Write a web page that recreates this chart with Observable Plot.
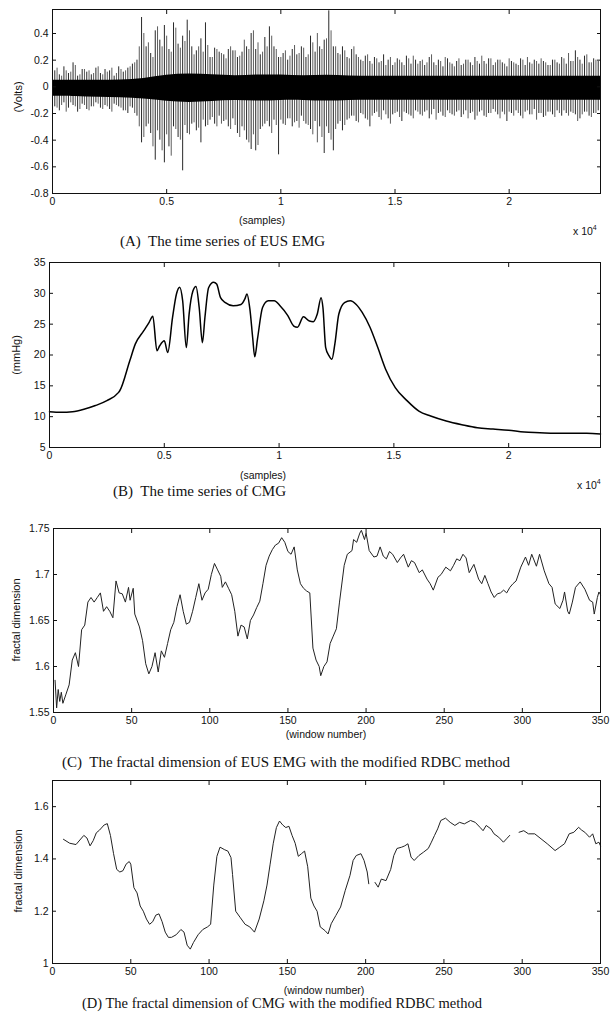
<!DOCTYPE html>
<html><head><meta charset="utf-8">
<script src="https://cdn.jsdelivr.net/npm/d3@7"></script>
<script src="https://cdn.jsdelivr.net/npm/@observablehq/plot@0.6"></script>
<style>
body{margin:0;background:#fff;}
#wrap{position:relative;width:611px;height:1016px;font-family:"Liberation Sans",Arial,sans-serif;color:#111;overflow:hidden;}
.p{position:absolute;left:0;}
.t{position:absolute;white-space:nowrap;font-size:10.5px;line-height:1;transform:translate(-50%,-50%);}
.x4{position:absolute;white-space:nowrap;font-size:10.5px;line-height:1;transform:translateY(-50%);}
.x4 sup{font-size:7px;vertical-align:5px;}
.cap{position:absolute;white-space:nowrap;font-family:"Liberation Serif","Times New Roman",serif;font-size:15px;line-height:1;transform:translateY(-50%);}
.yl{position:absolute;white-space:nowrap;font-size:11px;line-height:1;transform:translate(-50%,-50%) rotate(-90deg);}
</style></head><body><div id="wrap"></div>
<script>
// ---------- Panel A: EUS EMG (per 200-sample bin extremes, Volts) ----------
const emgBinSize = 200;
const emgMax = [0.12,0.09,0.15,0.10,0.18,0.08,0.13,0.11,0.09,0.14,
0.10,0.13,0.12,0.08,0.15,0.11,0.14,0.17,0.20,0.52,
0.30,0.25,0.42,0.35,0.46,0.28,0.48,0.32,0.38,0.50,
0.30,0.27,0.36,0.48,0.22,0.29,0.26,0.24,0.28,0.27,
0.22,0.26,0.30,0.40,0.28,0.24,0.37,0.45,0.30,0.22,
0.25,0.20,0.28,0.24,0.30,0.22,0.38,0.26,0.30,0.35,
0.57,0.30,0.25,0.30,0.22,0.28,0.24,0.20,0.23,0.19,
0.22,0.18,0.24,0.20,0.16,0.21,0.18,0.23,0.17,0.20,
0.19,0.16,0.22,0.18,0.20,0.15,0.21,0.17,0.19,0.16,
0.20,0.18,0.22,0.17,0.19,0.21,0.16,0.20,0.18,0.15,
0.19,0.17,0.21,0.16,0.18,0.20,0.17,0.19,0.16,0.20,
0.18,0.22,0.17,0.19,0.27,0.20,0.23,0.18,0.21,0.19];
const emgMin = [-0.15,-0.18,-0.12,-0.16,-0.14,-0.19,-0.13,-0.17,-0.15,-0.12,
-0.16,-0.14,-0.17,-0.13,-0.15,-0.18,-0.20,-0.16,-0.22,-0.42,
-0.30,-0.35,-0.55,-0.40,-0.57,-0.45,-0.30,-0.38,-0.63,-0.35,
-0.28,-0.33,-0.42,-0.30,-0.25,-0.28,-0.22,-0.26,-0.30,-0.24,
-0.35,-0.30,-0.40,-0.47,-0.48,-0.32,-0.28,-0.30,-0.25,-0.51,
-0.28,-0.24,-0.30,-0.26,-0.22,-0.28,-0.32,-0.26,-0.30,-0.50,
-0.35,-0.48,-0.28,-0.33,-0.25,-0.22,-0.26,-0.20,-0.24,-0.30,
-0.20,-0.23,-0.18,-0.24,-0.21,-0.19,-0.26,-0.20,-0.22,-0.18,
-0.21,-0.19,-0.24,-0.17,-0.20,-0.22,-0.18,-0.21,-0.19,-0.23,
-0.18,-0.20,-0.25,-0.19,-0.22,-0.20,-0.17,-0.21,-0.19,-0.26,
-0.20,-0.18,-0.22,-0.19,-0.21,-0.17,-0.20,-0.23,-0.19,-0.21,
-0.18,-0.22,-0.20,-0.19,-0.21,-0.24,-0.19,-0.22,-0.20,-0.18];
// second set of extremes, for the 200-sample bins offset by half a bin
const emgMax2 = [0.10,0.14,0.08,0.12,0.11,0.16,0.09,0.13,0.12,0.10,
0.15,0.09,0.11,0.14,0.10,0.13,0.12,0.15,0.18,0.30,
0.40,0.33,0.22,0.45,0.30,0.38,0.26,0.44,0.29,0.34,
0.42,0.24,0.30,0.26,0.31,0.22,0.28,0.25,0.21,0.30,
0.27,0.23,0.35,0.28,0.42,0.33,0.26,0.30,0.38,0.28,
0.22,0.27,0.23,0.31,0.25,0.29,0.24,0.33,0.40,0.28,
0.36,0.42,0.30,0.24,0.27,0.21,0.30,0.22,0.19,0.24,
0.17,0.21,0.19,0.16,0.22,0.18,0.20,0.16,0.21,0.23,
0.17,0.20,0.18,0.24,0.16,0.19,0.22,0.18,0.15,0.21,
0.17,0.20,0.16,0.19,0.23,0.17,0.21,0.18,0.20,0.17,
0.21,0.18,0.16,0.20,0.22,0.17,0.19,0.21,0.18,0.16,
0.20,0.17,0.21,0.25,0.19,0.22,0.17,0.24,0.18,0.20];
const emgMin2 = [-0.13,-0.16,-0.14,-0.19,-0.12,-0.15,-0.17,-0.14,-0.18,-0.15,
-0.13,-0.17,-0.15,-0.19,-0.14,-0.16,-0.18,-0.15,-0.20,-0.30,
-0.38,-0.28,-0.45,-0.33,-0.48,-0.36,-0.52,-0.32,-0.40,-0.29,
-0.36,-0.27,-0.31,-0.25,-0.29,-0.23,-0.30,-0.28,-0.25,-0.32,
-0.29,-0.38,-0.33,-0.42,-0.36,-0.44,-0.30,-0.26,-0.35,-0.29,
-0.25,-0.29,-0.24,-0.27,-0.31,-0.26,-0.29,-0.36,-0.42,-0.38,
-0.30,-0.40,-0.32,-0.26,-0.29,-0.24,-0.22,-0.27,-0.21,-0.25,
-0.22,-0.19,-0.25,-0.21,-0.28,-0.20,-0.23,-0.19,-0.21,-0.24,
-0.19,-0.22,-0.18,-0.21,-0.25,-0.19,-0.23,-0.20,-0.22,-0.18,
-0.21,-0.24,-0.19,-0.22,-0.18,-0.23,-0.20,-0.19,-0.24,-0.21,
-0.19,-0.22,-0.20,-0.24,-0.18,-0.21,-0.25,-0.20,-0.22,-0.19,
-0.23,-0.20,-0.18,-0.22,-0.20,-0.26,-0.21,-0.19,-0.23,-0.20];
const emgCoreSamples = [0,1000,2000,3000,4000,5000,6000,7000,8000,9000,10000,11000,12000,13000,14000,15000,16000,17000,18000,19000,20000,21000,22000,23000,24000];
const emgCoreHi = [0.05,0.05,0.05,0.05,0.06,0.09,0.10,0.09,0.08,0.09,0.09,0.08,0.09,0.08,0.08,0.08,0.08,0.08,0.08,0.08,0.08,0.08,0.08,0.08,0.08];
const emgCoreLo = [-0.07,-0.07,-0.08,-0.08,-0.09,-0.11,-0.12,-0.11,-0.10,-0.11,-0.10,-0.10,-0.11,-0.10,-0.10,-0.10,-0.10,-0.10,-0.10,-0.10,-0.10,-0.10,-0.10,-0.10,-0.10];
const sampleTicks = [0,5000,10000,15000,20000];
const voltTicks = [-0.8,-0.6,-0.4,-0.2,0,0.2,0.4];

// ---------- Panel B: CMG (mmHg) ----------
const cmgSamples = [0,500,1000,1500,2000,2500,3000,3060,3500,3740,4100,4340,4500,4680,4800,5000,5150,5360,5530,5670,5800,5960,6080,6250,6380,6520,6660,6770,6930,7150,7280,7450,7660,8000,8340,8510,8600,8730,8850,8940,9060,9280,9530,9790,10040,10380,10640,10800,11060,11320,11490,11660,11830,11910,12030,12170,12300,12430,12600,12850,13100,13360,13620,13960,14300,14640,15060,15570,16090,16600,17280,17960,18640,19320,20000,20680,21360,22000,22700,23400,24000];
const cmgValues = [10.8,10.7,10.8,11.2,11.8,12.6,13.9,14.2,19.1,21.8,23.9,25.3,26.3,20.7,21.5,22.3,20.4,26.1,29.9,31.0,28.8,21.2,26.6,30.4,31.1,27.7,22.0,26.1,30.9,31.8,31.5,29.3,28.5,28.0,28.2,29.1,29.9,27.4,22.8,19.7,22.6,27.7,28.8,28.8,28.0,26.4,24.7,24.5,26.2,25.5,25.4,26.6,29.3,27.7,21.2,19.9,19.3,21.8,26.6,28.5,28.8,28.2,26.9,24.5,21.2,17.7,14.7,12.6,10.9,10.1,9.3,8.7,8.2,8.0,7.8,7.5,7.4,7.3,7.3,7.3,7.2];
const mmHgTicks = [5,10,15,20,25,30,35];

// ---------- Panel C: fractal dimension of EUS EMG ----------
const fdEmgWindow = [1,2,3,4,5,6,8,10,12,14,16,18,20,22,24,26,28,30,32,34,36,38,40,42,44,46,48,49,51,52,55,57,59,61,63,65,67,69,71,73,75,77,79,81,83,85,87,89,91,93,95,97,99,101,103,105,107,108,110,112,114,116,118,120,122,124,126,128,130,132,134,136,138,140,142,144,146,148,150,152,154,156,158,160,162,164,166,168,170,171,173,175,177,179,181,183,186,188,191,192,194,196,197,199,200,202,205,207,209,211,213,215,217,220,222,224,227,229,231,234,236,239,241,243,246,248,251,254,256,258,260,262,264,266,269,272,274,276,278,280,282,284,286,288,290,292,294,296,299,302,304,306,309,311,314,317,319,321,324,326,327,329,330,332,334,337,340,343,345,346,348,349,350];
const fdEmgValue = [1.585,1.555,1.575,1.562,1.572,1.56,1.57,1.58,1.607,1.615,1.60,1.64,1.645,1.67,1.675,1.67,1.675,1.68,1.66,1.665,1.66,1.653,1.693,1.68,1.679,1.67,1.686,1.672,1.685,1.657,1.643,1.628,1.603,1.592,1.60,1.615,1.594,1.617,1.61,1.625,1.64,1.648,1.665,1.678,1.66,1.646,1.648,1.66,1.675,1.69,1.672,1.68,1.684,1.70,1.712,1.705,1.698,1.686,1.692,1.685,1.678,1.66,1.633,1.645,1.643,1.63,1.65,1.656,1.664,1.671,1.69,1.71,1.72,1.727,1.732,1.734,1.74,1.735,1.725,1.722,1.73,1.705,1.69,1.685,1.682,1.68,1.62,1.607,1.60,1.59,1.60,1.605,1.625,1.633,1.641,1.67,1.71,1.722,1.726,1.738,1.735,1.745,1.748,1.738,1.745,1.726,1.719,1.72,1.73,1.72,1.717,1.725,1.722,1.713,1.718,1.722,1.708,1.715,1.713,1.702,1.705,1.695,1.69,1.683,1.697,1.70,1.708,1.704,1.71,1.717,1.715,1.722,1.718,1.702,1.711,1.695,1.69,1.699,1.69,1.681,1.675,1.679,1.68,1.683,1.68,1.686,1.69,1.693,1.708,1.719,1.71,1.722,1.709,1.722,1.704,1.69,1.686,1.668,1.663,1.672,1.681,1.66,1.657,1.67,1.686,1.692,1.684,1.672,1.67,1.657,1.675,1.681,1.678];
const windowTicks = [0,50,100,150,200,250,300,350];
const fdEmgTicks = [1.55,1.6,1.65,1.7,1.75];

// ---------- Panel D: fractal dimension of CMG (null = gap in trace) ----------
const fdCmgWindow = [7,11,15,20,22,24,26,28,30,33,35,37,39,41,43,45,47,49,50,52,54,56,58,60,62,64,66,68,70,72,74,76,79,82,84,86,88,90,93,96,99,101,103,105,107,110,112,114,115,117,120,123,126,129,132,135,137,139,141,143,145,147,149,151,153,155,157,159,161,163,165,167,169,171,174,176,178,181,184,187,190,192,194,197,199,201,202,204,206,208,210,213,216,218,220,223,225,227,229,231,234,237,240,242,244,246,248,251,254,257,260,263,267,270,273,275,277,280,282,285,288,290,292,295,298,301,304,308,312,316,321,324,327,330,333,336,338,340,343,345,347,349,350];
const fdCmgValue = [1.475,1.46,1.455,1.49,1.48,1.45,1.47,1.50,1.51,1.53,1.535,1.49,1.42,1.36,1.35,1.355,1.38,1.39,1.38,1.29,1.27,1.22,1.20,1.17,1.15,1.16,1.185,1.19,1.16,1.12,1.10,1.10,1.11,1.13,1.12,1.07,1.055,1.08,1.11,1.13,1.14,1.15,1.30,1.41,1.445,1.435,1.43,1.405,1.34,1.20,1.175,1.15,1.14,1.12,1.17,1.24,1.30,1.38,1.46,1.52,1.545,1.53,1.52,1.525,1.49,1.46,1.41,1.42,1.43,1.37,1.25,1.22,1.20,1.14,1.126,1.113,1.152,1.184,1.216,1.28,1.337,1.394,1.413,1.42,1.394,1.35,1.305,null,1.31,1.292,1.323,1.317,1.36,1.413,1.44,1.445,1.45,1.458,1.407,1.394,1.413,1.426,1.44,1.464,1.49,1.515,1.547,1.556,1.54,1.528,1.54,1.534,1.547,1.54,1.521,1.508,1.528,1.515,1.496,1.483,1.464,1.477,1.49,null,1.502,1.508,1.496,1.496,1.477,1.458,1.432,1.445,1.458,1.496,1.502,1.521,1.51,1.502,1.483,1.496,1.458,1.464,1.45];
const fdCmgTicks = [1,1.2,1.4,1.6];

// ---------- helpers ----------
const wrap = document.getElementById("wrap");
const INK = "#111";
function fmtSamples(d){ return String(d/10000); }
function fmtPlain(d){ return String(+d.toFixed(2)); }

function panel({top, height, mt, mb, ml, mr, xDomain, yDomain, xTicks, yTicks, xFmt, yFmt, marks}) {
  const svg = Plot.plot({
    width: 611, height,
    marginTop: mt, marginBottom: mb, marginLeft: ml, marginRight: mr,
    x: {domain: xDomain},
    y: {domain: yDomain},
    style: {fontFamily: '"Liberation Sans", Arial, sans-serif', fontSize: "10.5px", color: INK, background: "transparent", overflow: "visible"},
    marks: [
      ...marks,
      Plot.frame({stroke: INK, strokeWidth: 1}),
      Plot.axisX(xTicks, {anchor: "bottom", tickSize: -4, tickPadding: 8, tickFormat: xFmt, label: null, stroke: INK}),
      Plot.axisX(xTicks, {anchor: "top", tickSize: -4, tickFormat: () => "", label: null, stroke: INK}),
      Plot.axisY(yTicks, {anchor: "left", tickSize: -4, tickPadding: 8, tickFormat: yFmt, label: null, stroke: INK}),
      Plot.axisY(yTicks, {anchor: "right", tickSize: -4, tickFormat: () => "", label: null, stroke: INK})
    ]
  });
  svg.classList.add("p");
  svg.style.top = top + "px";
  wrap.appendChild(svg);
}
function txt(cls, html, x, y, extra) {
  const d = document.createElement("div");
  d.className = cls; d.innerHTML = html;
  d.style.left = x + "px"; d.style.top = y + "px";
  if (extra) Object.assign(d.style, extra);
  wrap.appendChild(d);
}

// Panel A
const emgBins = emgMax.map((v, i) => ({s: i * emgBinSize + emgBinSize / 2, hi: v, lo: emgMin[i]}));
const emgBins2 = emgMax2.map((v, i) => ({s: i * emgBinSize, hi: v, lo: emgMin2[i]}));
const emgCore = emgCoreSamples.map((s, i) => ({s, hi: emgCoreHi[i], lo: emgCoreLo[i]}));
panel({top: 0, height: 215, mt: 9, mb: 22, ml: 52, mr: 11,
  xDomain: [0, 24000], yDomain: [-0.8, 0.58], xTicks: sampleTicks, yTicks: voltTicks,
  xFmt: fmtSamples, yFmt: fmtPlain,
  marks: [
    Plot.ruleX(emgBins2, {x: "s", y1: "lo", y2: "hi", stroke: "#333", strokeWidth: 0.8}),
    Plot.ruleX(emgBins, {x: "s", y1: "lo", y2: "hi", stroke: "#111", strokeWidth: 0.9}),
    Plot.areaY(emgCore, {x: "s", y1: "lo", y2: "hi", fill: "#000", curve: "basis"})
  ]});

// Panel B
const cmg = cmgSamples.map((s, i) => ({s, v: cmgValues[i]}));
panel({top: 250, height: 219, mt: 12, mb: 22, ml: 49, mr: 11,
  xDomain: [0, 24000], yDomain: [5, 35], xTicks: sampleTicks, yTicks: mmHgTicks,
  xFmt: fmtSamples, yFmt: fmtPlain,
  marks: [Plot.line(cmg, {x: "s", y: "v", stroke: "#000", strokeWidth: 1.5, curve: "monotone-x"})]});

// Panel C
const fdEmg = fdEmgWindow.map((w, i) => ({w, v: fdEmgValue[i]}));
panel({top: 515, height: 219, mt: 13, mb: 22, ml: 53, mr: 11,
  xDomain: [0, 350], yDomain: [1.55, 1.75], xTicks: windowTicks, yTicks: fdEmgTicks,
  xFmt: d => String(d), yFmt: fmtPlain,
  marks: [Plot.line(fdEmg, {x: "w", y: "v", stroke: "#222", strokeWidth: 1})]});

// Panel D
const fdCmg = fdCmgWindow.map((w, i) => ({w, v: fdCmgValue[i]}));
panel({top: 768, height: 217, mt: 12, mb: 22, ml: 52, mr: 11,
  xDomain: [0, 350], yDomain: [1, 1.7], xTicks: windowTicks, yTicks: fdCmgTicks,
  xFmt: d => String(d), yFmt: fmtPlain,
  marks: [Plot.line(fdCmg, {x: "w", y: "v", stroke: "#222", strokeWidth: 1})]});

// Labels & captions
txt("yl", "(Volts)", 18, 97);
txt("t", "(samples)", 262, 220);
txt("x4", "x 10<sup>4</sup>", 573, 230);
txt("cap", "(A)&nbsp; The time series of EUS EMG", 120, 241);

txt("yl", "(mmHg)", 16, 355);
txt("t", "(samples)", 263, 475);
txt("x4", "x 10<sup>4</sup>", 577, 484);
txt("cap", "(B)&nbsp; The time series of CMG", 113, 491);

txt("yl", "fractal dimension", 16, 620);
txt("t", "(window number)", 326, 734);
txt("cap", "(C)&nbsp; The fractal dimension of EUS EMG with the modified RDBC method", 62, 762);

txt("yl", "fractal dimension", 18, 871);
txt("t", "(window number)", 324, 990);
txt("cap", "(D) The fractal dimension of CMG with the modified RDBC method", 82, 1003, {fontSize: "14.5px"});
</script>
</body></html>
